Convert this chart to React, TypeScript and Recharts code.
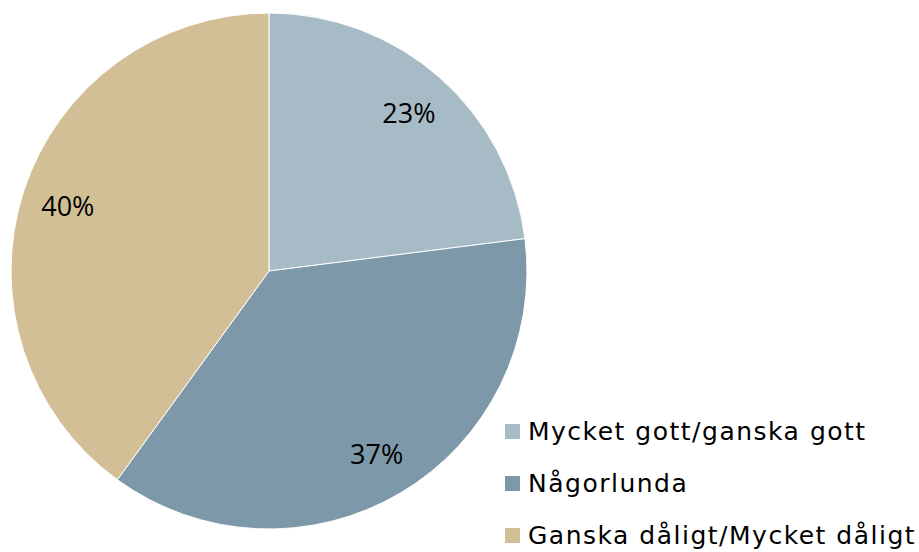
import React from "react";
import { PieChart, Pie, Cell, Legend } from "recharts";

const categories = ["Mycket gott/ganska gott", "Någorlunda", "Ganska dåligt/Mycket dåligt"];
const values = [23, 37, 40];
const colors = ["#A7BBC6", "#7D98A8", "#D3BF95"];

const data = categories.map((name, i) => ({ name, value: values[i] }));

const RAD = Math.PI / 180;

const renderLabel = (props: any) => {
  const { cx, cy, midAngle, outerRadius, value } = props;
  const r = outerRadius * 0.82;
  const x = cx + r * Math.cos(-midAngle * RAD);
  const y = cy + r * Math.sin(-midAngle * RAD);
  return (
    <text
      x={x}
      y={y}
      textAnchor="middle"
      dominantBaseline="central"
      fill="#000"
      fontFamily="'Open Sans', sans-serif"
      fontSize={27}
    >
      {`${value}%`}
    </text>
  );
};

const renderLegend = () => {
  return (
    <div style={{ fontFamily: "'DejaVu Sans', sans-serif", fontSize: 25, letterSpacing: 1.5, color: "#000" }}>
      {categories.map((name, i) => (
        <div key={name} style={{ display: "flex", alignItems: "center", height: 52, whiteSpace: "nowrap" }}>
          <span style={{ display: "inline-block", width: 15, height: 15, background: colors[i], marginRight: 8 }} />
          <span>{name}</span>
        </div>
      ))}
    </div>
  );
};

export default function App() {
  return (
    <div style={{ position: "absolute", left: 0, top: 0, background: "#fff" }}>
      <PieChart width={919} height={552} margin={{ top: 0, right: 0, bottom: 0, left: 0 }}>
        <Pie
          data={data}
          dataKey="value"
          nameKey="name"
          cx={269}
          cy={271}
          outerRadius={258}
          startAngle={90}
          endAngle={-270}
          stroke="#ffffff"
          strokeWidth={1}
          label={renderLabel}
          labelLine={false}
          isAnimationActive={false}
        >
          {data.map((d, i) => (
            <Cell key={d.name} fill={colors[i]} />
          ))}
        </Pie>
        <Legend
          layout="vertical"
          content={renderLegend}
          wrapperStyle={{ position: "absolute", left: 505, top: 405, width: 420 }}
        />
      </PieChart>
    </div>
  );
}
